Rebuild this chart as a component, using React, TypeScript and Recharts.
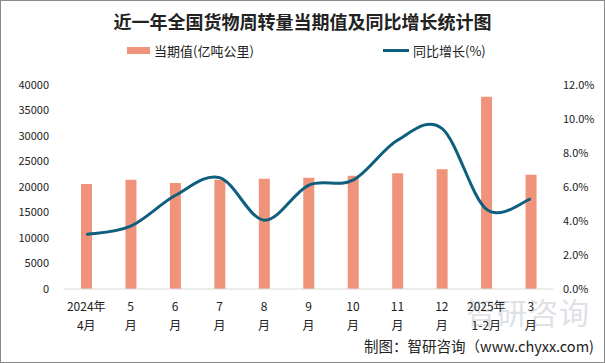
import React from 'react';
import { ComposedChart, Bar, Line, XAxis, YAxis } from 'recharts';

const months = ['2024年|4月', '5|月', '6|月', '7|月', '8|月', '9|月', '10|月', '11|月', '12|月', '2025年|1-2月', '3|月'];
const volume = [20600, 21400, 20800, 21400, 21600, 21800, 22200, 22700, 23500, 37700, 22400];
const growth = [3.2, 3.7, 5.5, 6.55, 4.05, 6.1, 6.4, 8.75, 9.45, 4.7, 5.3];
const leftTicks = [0, 5000, 10000, 15000, 20000, 25000, 30000, 35000, 40000];
const rightTicks = [0, 2, 4, 6, 8, 10, 12];

const data = months.map((m, i) => ({ month: m, volume: volume[i], growth: growth[i] }));

const FONT = "'Noto Sans CJK SC', 'Noto Sans', sans-serif";

// excel-like smoothed line (catmull-rom)
const smoothCurve = (context: any) => {
  let pts: number[][] = [];
  return {
    areaStart() {},
    areaEnd() {},
    lineStart() {
      pts = [];
    },
    point(x: number, y: number) {
      pts.push([+x, +y]);
    },
    lineEnd() {
      if (!pts.length) return;
      context.moveTo(pts[0][0], pts[0][1]);
      for (let i = 0; i < pts.length - 1; i++) {
        const p0 = pts[i - 1] || pts[i];
        const p1 = pts[i];
        const p2 = pts[i + 1];
        const p3 = pts[i + 2] || p2;
        context.bezierCurveTo(
          p1[0] + (p2[0] - p0[0]) / 6,
          p1[1] + (p2[1] - p0[1]) / 6,
          p2[0] - (p3[0] - p1[0]) / 6,
          p2[1] - (p3[1] - p1[1]) / 6,
          p2[0],
          p2[1]
        );
      }
    },
  };
};

const MonthTick = ({ x, y, payload }: any) => {
  const [a, b] = String(payload.value).split('|');
  return (
    <text x={x} textAnchor="middle" fontSize={12} fill="#222" fontFamily={FONT}>
      <tspan x={x} y={y + 20}>{a}</tspan>
      <tspan x={x} y={y + 39}>{b}</tspan>
    </text>
  );
};

export default function App() {
  return (
    <div
      style={{
        position: 'absolute',
        left: 0,
        top: 0,
        width: 605,
        height: 363,
        boxSizing: 'border-box',
        border: '1px solid #8a8a8a',
        background: '#fff',
        fontFamily: FONT,
        color: '#222',
      }}
    >
      <div style={{ position: 'absolute', left: -1, top: 7, width: 605, textAlign: 'center', fontSize: 18, fontWeight: 'bold', lineHeight: '26px' }}>
        近一年全国货物周转量当期值及同比增长统计图
      </div>
      <div style={{ position: 'absolute', left: 126, top: 40, display: 'flex', alignItems: 'center', fontSize: 13, lineHeight: '19px' }}>
        <span style={{ display: 'inline-block', width: 23, height: 7, background: '#f0937b', marginRight: 4 }} />
        当期值(亿吨公里)
      </div>
      <div style={{ position: 'absolute', left: 382, top: 40, display: 'flex', alignItems: 'center', fontSize: 13, lineHeight: '19px' }}>
        <span style={{ display: 'inline-block', width: 26, height: 3, background: '#0e5e7e', marginRight: 4 }} />
        同比增长(%)
      </div>
      <div style={{ position: 'absolute', left: 465, top: 292, fontSize: 30, color: '#c9ced6', opacity: 0.6, lineHeight: '36px', letterSpacing: 1 }}>
        智研咨询
      </div>
      <ComposedChart
        width={605}
        height={363}
        data={data}
        margin={{ top: 85, right: 10, bottom: 34, left: 4 }}
        style={{ position: 'absolute', left: -1, top: -1 }}
      >
        <XAxis
          dataKey="month"
          tick={<MonthTick />}
          tickLine={false}
          tickSize={0}
          height={40}
          axisLine={{ stroke: '#d9d9d9' }}
          interval={0}
        />
        <YAxis
          yAxisId="left"
          domain={[0, 40000]}
          ticks={leftTicks}
          interval={0}
          width={60}
          axisLine={false}
          tickLine={false}
          tickSize={0}
          tickMargin={15}
          tick={{ fontSize: 11, fill: '#222', fontFamily: FONT }}
        />
        <YAxis
          yAxisId="right"
          orientation="right"
          domain={[0, 12]}
          ticks={rightTicks}
          interval={0}
          width={42}
          axisLine={false}
          tickLine={false}
          tickSize={0}
          tickMargin={10}
          tickFormatter={(v: number) => `${v.toFixed(1)}%`}
          tick={{ fontSize: 11, fill: '#222', fontFamily: FONT }}
        />
        <Bar yAxisId="left" dataKey="volume" fill="#f0937b" barSize={11} isAnimationActive={false} />
        <Line
          yAxisId="right"
          dataKey="growth"
          type={smoothCurve as any}
          stroke="#0e5e7e"
          strokeWidth={3}
          dot={false}
          activeDot={false}
          isAnimationActive={false}
        />
      </ComposedChart>
      <div style={{ position: 'absolute', right: 10, top: 335, fontSize: 14.5, lineHeight: '20px' }}>
        制图：智研咨询（www.chyxx.com)
      </div>
    </div>
  );
}
